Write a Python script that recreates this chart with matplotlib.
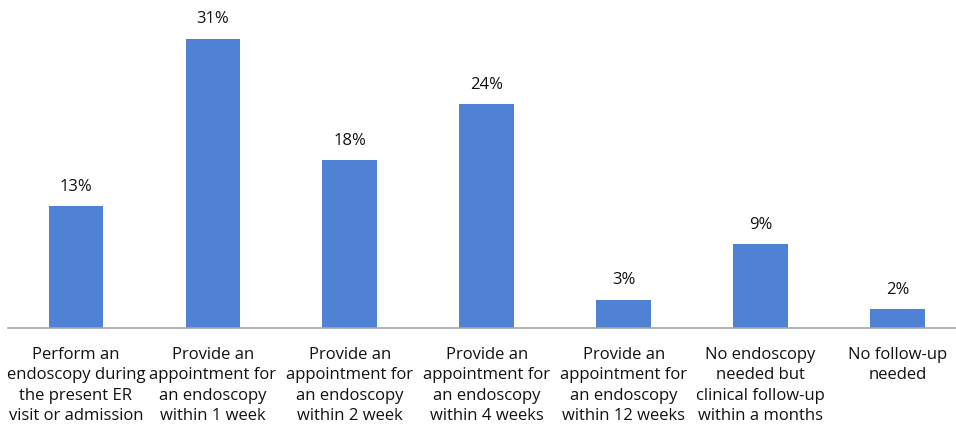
import matplotlib
matplotlib.use("Agg")
import matplotlib.pyplot as plt

categories = [
    "Perform an\nendoscopy during\nthe present ER\nvisit or admission",
    "Provide an\nappointment for\nan endoscopy\nwithin 1 week",
    "Provide an\nappointment for\nan endoscopy\nwithin 2 week",
    "Provide an\nappointment for\nan endoscopy\nwithin 4 weeks",
    "Provide an\nappointment for\nan endoscopy\nwithin 12 weeks",
    "No endoscopy\nneeded but\nclinical follow-up\nwithin a months",
    "No follow-up\nneeded",
]
values = [13, 31, 18, 24, 3, 9, 2]

plt.rcParams["font.family"] = ["Open Sans", "DejaVu Sans"]

W, H = 956, 429
fig = plt.figure(figsize=(W / 100, H / 100), dpi=100)
ax = fig.add_axes([7.5 / W, (H - 327.5) / H, 958.5 / W, 316.9 / H])

x = list(range(len(values)))
ax.bar(x, values, width=0.4, color="#4F81D4", zorder=2)
for xi, v in zip(x, values):
    ax.annotate(f"{v}%", (xi, v), xytext=(0, 8), textcoords="offset points",
                ha="center", va="bottom", fontsize=12, color="#111111")

ax.set_xlim(-0.5, len(values) - 0.5)
ax.set_ylim(0, 34)
ax.set_xticks(x)
ax.set_xticklabels(categories, fontsize=12, color="#111111", linespacing=1.37)
ax.tick_params(axis="x", length=0, pad=14)
ax.set_yticks([])
for s in ("top", "left", "right"):
    ax.spines[s].set_visible(False)
ax.spines["bottom"].set_color("#a6a6a6")
ax.spines["bottom"].set_linewidth(1.2)

fig.savefig("out.png", dpi=100)
